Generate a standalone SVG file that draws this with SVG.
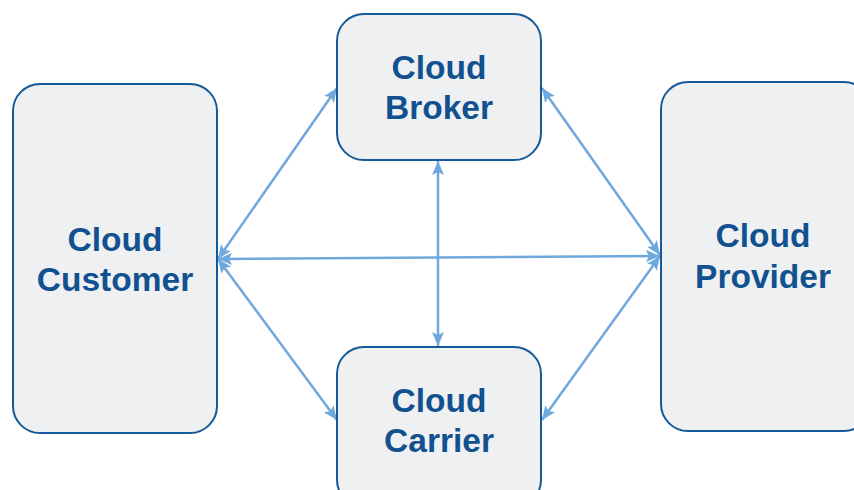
<svg xmlns="http://www.w3.org/2000/svg" width="854" height="490" viewBox="0 0 854 490">
<style>
.box{fill:#eff0f2;stroke:#155a98;stroke-width:2}
.lbl{font-family:"Liberation Sans",Arial,sans-serif;font-weight:bold;font-size:33.5px;fill:#11518f;text-anchor:middle}
.conn{stroke:#6fa8dc;stroke-width:2.5;fill:none;marker-start:url(#ah);marker-end:url(#ah)}
</style>
<defs>
<marker id="ah" viewBox="0 0 14 12" refX="14" refY="6" markerWidth="14" markerHeight="12" markerUnits="userSpaceOnUse" orient="auto-start-reverse">
<path d="M0,0 L14,6 L0,12 L3,6 Z" fill="#6fa8dc"/>
</marker>
</defs>
<rect width="854" height="490" fill="#ffffff"/>
<g id="connectors">
<line class="conn" x1="218" y1="259" x2="337" y2="88"/>
<line class="conn" x1="542" y1="88" x2="660" y2="255"/>
<line class="conn" x1="218" y1="259" x2="660" y2="256"/>
<line class="conn" x1="438" y1="161" x2="438" y2="346"/>
<line class="conn" x1="218" y1="259" x2="337" y2="420"/>
<line class="conn" x1="660" y1="256" x2="542" y2="420"/>
</g>
<g id="customer">
<rect class="box" x="13" y="84" width="204" height="349" rx="27"/>
<text class="lbl" x="115" y="251">Cloud</text>
<text class="lbl" x="115" y="291">Customer</text>
</g>
<g id="broker">
<rect class="box" x="337" y="14" width="204" height="146" rx="27"/>
<text class="lbl" x="439" y="79">Cloud</text>
<text class="lbl" x="439" y="119">Broker</text>
</g>
<g id="carrier">
<rect class="box" x="337" y="347" width="204" height="160" rx="27"/>
<text class="lbl" x="439" y="412">Cloud</text>
<text class="lbl" x="439" y="452">Carrier</text>
</g>
<g id="provider">
<rect class="box" x="661" y="82" width="210" height="349" rx="27"/>
<text class="lbl" x="763" y="247">Cloud</text>
<text class="lbl" x="763" y="288">Provider</text>
</g>
</svg>
